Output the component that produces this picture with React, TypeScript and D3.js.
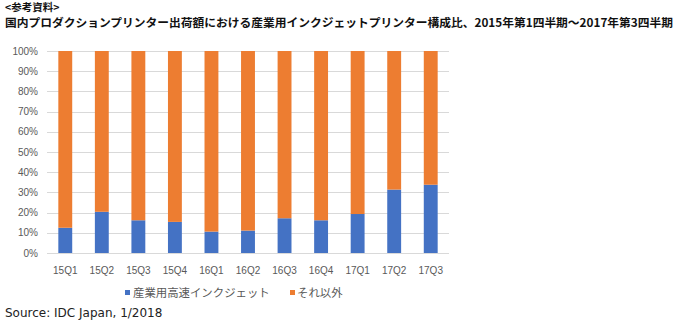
import React from "react";
import * as d3 from "d3";

const categories = ["15Q1","15Q2","15Q3","15Q4","16Q1","16Q2","16Q3","16Q4","17Q1","17Q2","17Q3"];
const industrial = [12.5, 20.4, 16.2, 15.4, 10.6, 11.1, 17.2, 16.2, 19.3, 31.4, 33.8];
const others = industrial.map(v => 100 - v);
const yTicks = [0,10,20,30,40,50,60,70,80,90,100];
const seriesNames = ["産業用高速インクジェット", "それ以外"];
const colors = ["#4472C4", "#ED7D31"];

const W = 680, H = 326;
const plot = { left: 47, right: 449, top: 51, bottom: 253 };

export default function App() {
  const x = d3.scaleBand<string>().domain(categories).range([plot.left, plot.right]).paddingInner(0.62).paddingOuter(0.31);
  const y = d3.scaleLinear().domain([0, 100]).range([plot.bottom, plot.top]);
  const stackData = categories.map((c, i) => ({ cat: c, a: industrial[i], b: others[i] }));
  const stack = d3.stack<any>().keys(["a", "b"])(stackData);
  const labelFont = "'Noto Sans CJK JP', 'Noto Sans', sans-serif";
  return (
    <svg width={W} height={H} style={{ position: "absolute", left: 0, top: 0, background: "#fff" }}>
      <rect width={W} height={H} fill="#fff" />
      <text x={5} y={11} fontFamily={labelFont} fontWeight="bold" fontSize={10.5} fill="#111">&lt;参考資料&gt;</text>
      <text x={5} y={27} fontFamily={labelFont} fontWeight="bold" fontSize={11.6} fill="#111" textLength={668} lengthAdjust="spacingAndGlyphs">国内プロダクションプリンター出荷額における産業用インクジェットプリンター構成比、2015年第1四半期～2017年第3四半期</text>
      {yTicks.map(t => (
        <g key={t}>
          <line x1={plot.left} x2={plot.right} y1={Math.round(y(t)) + 0.5} y2={Math.round(y(t)) + 0.5} stroke="#d9d9d9" strokeWidth={1} />
          <text x={38} y={y(t)} dy="0.35em" textAnchor="end" fontFamily="'Liberation Sans', Arial, sans-serif" fontSize={10} fill="#595959">{t}%</text>
        </g>
      ))}
      {stack.map((s, si) => (
        <g key={si}>
          {s.map((d, i) => (
            <rect key={i} x={x(categories[i])!} width={x.bandwidth()} y={y(d[1])} height={y(d[0]) - y(d[1])} fill={colors[si]} />
          ))}
        </g>
      ))}
      {categories.map(c => (
        <text key={c} x={x(c)! + x.bandwidth() / 2} y={270} dy="0.35em" textAnchor="middle" fontFamily="'Liberation Sans', Arial, sans-serif" fontSize={10} fill="#595959">{c}</text>
      ))}
      <g>
        <rect x={125} y={290} width={5} height={5} fill={colors[0]} />
        <text x={133} y={293} dy="0.35em" fontFamily={labelFont} fontSize={11.4} fill="#595959">{seriesNames[0]}</text>
        <rect x={290} y={290} width={5} height={5} fill={colors[1]} />
        <text x={297} y={293} dy="0.35em" fontFamily={labelFont} fontSize={11.4} fill="#595959">{seriesNames[1]}</text>
      </g>
      <text x={5} y={313} dy="0.35em" fontFamily="'DejaVu Sans', Verdana, sans-serif" fontSize={12} fill="#222">Source: IDC Japan, 1/2018</text>
    </svg>
  );
}
